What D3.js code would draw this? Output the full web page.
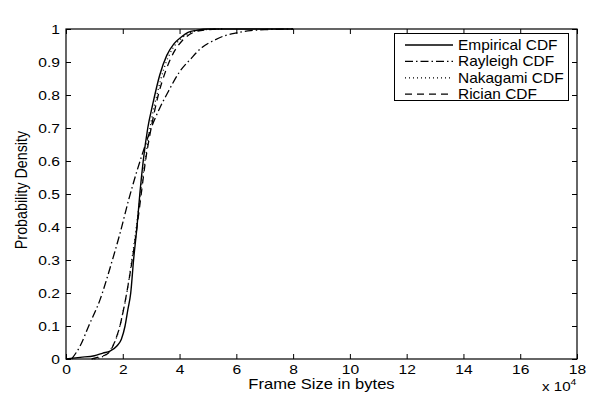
<!DOCTYPE html>
<html><head><meta charset="utf-8">
<script src="https://cdn.jsdelivr.net/npm/d3@7"></script>
<style>body{margin:0;background:#fff}svg{display:block}text{font-family:"Liberation Sans",Arial,Helvetica,sans-serif}</style>
</head><body><svg id="c" width="591" height="399"></svg>
<script>
// x values in units of 10^4 bytes
const xTicks = [0,2,4,6,8,10,12,14,16,18];
const yTicks = [0,0.1,0.2,0.3,0.4,0.5,0.6,0.7,0.8,0.9,1];
const yTickLabels = ["0","0.1","0.2","0.3","0.4","0.5","0.6","0.7","0.8","0.9","1"];

const empiricalX = [0,0.5,1.0,1.3,1.55,1.8,1.95,2.08,2.18,2.28,2.38,2.5,2.6,2.72,2.88,3.05,3.3,3.55,3.8,4.05,4.3,4.6,5.0,6,8];
const empiricalP = [0,0.005,0.01,0.018,0.024,0.04,0.06,0.1,0.15,0.2,0.3,0.4,0.5,0.6,0.7,0.77,0.86,0.92,0.955,0.975,0.99,0.996,1,1,1];

const rayleighX = [0.2,0.5,0.8,1.2,1.6,1.9,2.2,2.5,2.8,3.0,3.3,3.6,4.0,4.4,4.8,5.2,5.6,6.0,6.5,7.0,8.0];
const rayleighP = [0,0.04,0.1,0.18,0.29,0.38,0.48,0.57,0.65,0.7,0.76,0.81,0.87,0.91,0.945,0.965,0.98,0.988,0.995,0.998,1];

const nakagamiX = [1.0,1.3,1.5,1.65,1.8,1.95,2.1,2.25,2.4,2.55,2.7,2.85,3.0,3.2,3.45,3.75,4.05,4.4,4.9,5.5];
const nakagamiP = [0,0.008,0.02,0.04,0.07,0.12,0.18,0.26,0.35,0.45,0.55,0.64,0.72,0.8,0.88,0.94,0.97,0.99,0.998,1];

const ricianX = [0.9,1.2,1.45,1.6,1.75,1.9,2.05,2.2,2.35,2.5,2.65,2.8,3.0,3.25,3.5,3.8,4.1,4.5,5.0,5.5];
const ricianP = [0,0.007,0.015,0.03,0.06,0.1,0.16,0.23,0.31,0.4,0.5,0.6,0.7,0.8,0.87,0.93,0.965,0.99,0.998,1];

const seriesNames = ["Empirical CDF","Rayleigh CDF","Nakagami CDF","Rician CDF"];

const L=66, R=577, T=29, B=359;
const SX = 1.2; // horizontal text stretch seen in the reference
const svg = d3.select("#c");
const x = d3.scaleLinear().domain([0,18]).range([L,R]);
const y = d3.scaleLinear().domain([0,1]).range([B,T]);

const series = [
  {name:seriesNames[0], xs:empiricalX, ps:empiricalP, dash:null, w:1.4},
  {name:seriesNames[1], xs:rayleighX, ps:rayleighP, dash:"8,3,1.5,3", w:1.3},
  {name:seriesNames[2], xs:nakagamiX, ps:nakagamiP, dash:"1,3", w:1.3},
  {name:seriesNames[3], xs:ricianX, ps:ricianP, dash:"7,5", w:1.3}
];

const line = d3.line().x(d=>x(d[0])).y(d=>y(d[1])).curve(d3.curveMonotoneX);
const g = svg.append("g");
series.forEach(s=>{
  g.append("path").datum(s.xs.map((v,i)=>[v,s.ps[i]]))
    .attr("d",line).attr("fill","none").attr("stroke","#000")
    .attr("stroke-width",s.w).attr("stroke-dasharray",s.dash);
});

// axes
const styleText = sel=>sel.selectAll("text").attr("font-size",13).attr("fill","#000")
  .attr("font-family","Liberation Sans, Arial, sans-serif");
svg.append("g").attr("transform",`translate(0,${B})`)
  .call(d3.axisBottom(x).tickValues(xTicks).tickSize(-5).tickPadding(6).tickFormat(d3.format("d")))
  .call(s=>s.select(".domain").remove()).call(styleText)
  .selectAll("text").attr("transform",`scale(${SX},1)`);
svg.append("g").attr("transform",`translate(0,${T})`)
  .call(d3.axisTop(x).tickValues(xTicks).tickSize(-5).tickFormat(""))
  .call(s=>s.select(".domain").remove());
svg.append("g").attr("transform",`translate(${L},0)`)
  .call(d3.axisLeft(y).tickValues(yTicks).tickSize(-5).tickPadding(5).tickFormat((d,i)=>yTickLabels[i]))
  .call(s=>s.select(".domain").remove()).call(styleText)
  .selectAll("text").attr("transform",`scale(${SX},1)`);
svg.append("g").attr("transform",`translate(${R},0)`)
  .call(d3.axisRight(y).tickValues(yTicks).tickSize(-5).tickFormat(""))
  .call(s=>s.select(".domain").remove());
svg.selectAll(".tick line").attr("stroke","#000");

svg.append("rect").attr("x",L).attr("y",T).attr("width",R-L).attr("height",B-T)
  .attr("fill","none").attr("stroke","#000").attr("stroke-width",1.2);

// labels
svg.append("text").attr("transform",`translate(${(L+R)/2},388.5) scale(${SX},1)`)
  .attr("text-anchor","middle").attr("font-size",13.8).text("Frame Size in bytes");
svg.append("text").attr("transform",`translate(27,${(T+B)/2 - 4}) scale(${SX},1) rotate(-90)`)
  .attr("text-anchor","middle").attr("font-size",14.3).text("Probability Density");
const ex = svg.append("text").attr("transform",`translate(542,391) scale(${SX*0.97},1)`).attr("font-size",13);
ex.append("tspan").text("x 10");
ex.append("tspan").attr("dy",-6).attr("font-size",9).text("4");

// legend
const lg = svg.append("g");
lg.append("rect").attr("x",394.5).attr("y",33.5).attr("width",174).attr("height",67)
  .attr("fill","#fff").attr("stroke","#000").attr("stroke-width",1);
series.forEach((s,i)=>{
  const yy = 45 + i*16.4;
  lg.append("line").attr("x1",405).attr("x2",453).attr("y1",yy).attr("y2",yy)
    .attr("stroke","#000").attr("stroke-width",s.w).attr("stroke-dasharray",s.dash);
  lg.append("text").attr("transform",`translate(458,${yy+5}) scale(1.12,1)`)
    .attr("font-size",13.8).text(s.name);
});
</script></body></html>
